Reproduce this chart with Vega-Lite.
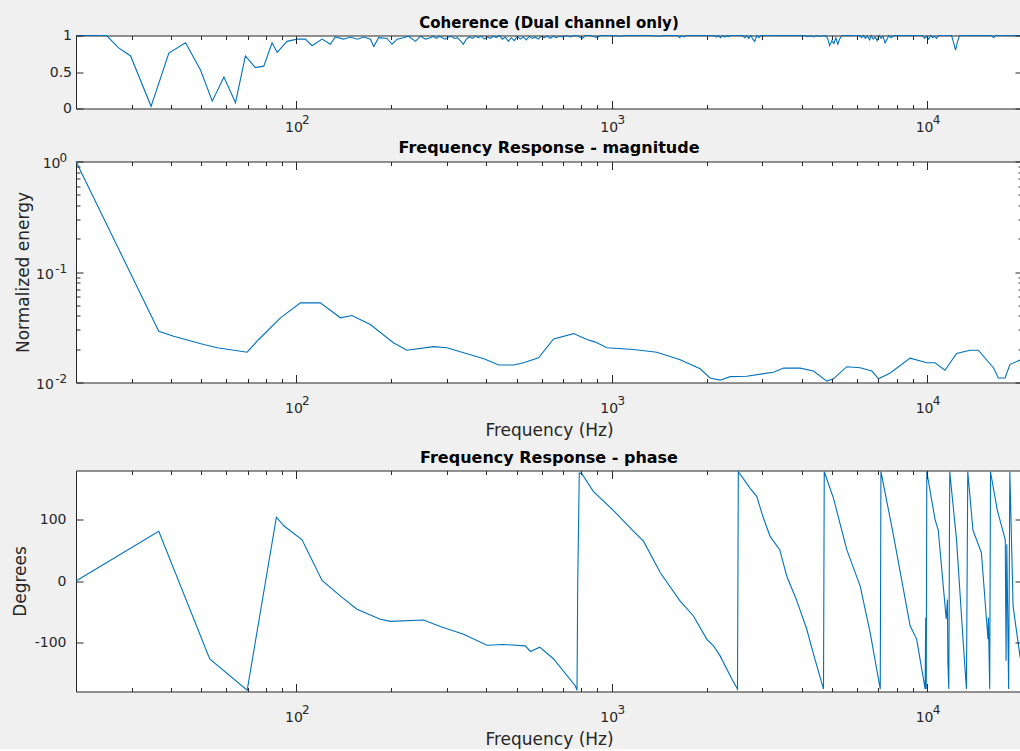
{
  "$schema": "https://vega.github.io/schema/vega-lite/v6.json",
  "background": "#f0f0f0",
  "padding": {"left": 10, "top": 14.5, "right": 0, "bottom": 0},
  "config": {
    "view": {"fill": "#ffffff", "stroke": "#262626", "strokeWidth": 1},
    "axis": {"grid": false, "labelFont": "DejaVu Sans", "titleFont": "DejaVu Sans", "labelColor": "#262626", "titleColor": "#262626", "tickColor": "#262626", "labelFontSize": 14, "titleFontSize": 17, "titleFontWeight": "normal", "tickWidth": 1, "labelFlush": false, "labelOverlap": false},
    "title": {"font": "DejaVu Sans", "fontSize": 16, "fontWeight": "bold", "color": "#000000", "anchor": "middle", "frame": "group", "baseline": "alphabetic", "offset": 8}
  },
  "datasets": {
    "coh": [
      {"f": 20, "v": 1}, {"f": 25, "v": 1}, {"f": 27.3, "v": 0.83}, {"f": 29.8, "v": 0.72}, {"f": 34.6, "v": 0.03}, {"f": 39.4, "v": 0.76}, {"f": 44.5, "v": 0.9}, {"f": 49.6, "v": 0.53}, {"f": 54.1, "v": 0.1}, {"f": 58.9, "v": 0.43}, {"f": 64.1, "v": 0.08}, {"f": 68.9, "v": 0.72}, {"f": 74.1, "v": 0.56}, {"f": 78.8, "v": 0.58}, {"f": 83.7, "v": 0.9}, {"f": 86.9, "v": 0.77}, {"f": 93.4, "v": 0.92}, {"f": 100.5, "v": 0.95}, {"f": 106.8, "v": 0.95}, {"f": 112.1, "v": 0.86}, {"f": 120.6, "v": 0.95}, {"f": 128.1, "v": 0.88}, {"f": 132.9, "v": 0.98}, {"f": 141.2, "v": 0.95}, {"f": 148.3, "v": 0.98}, {"f": 155.8, "v": 0.95}, {"f": 163.6, "v": 0.98}, {"f": 171.7, "v": 0.95}, {"f": 175.9, "v": 0.85}, {"f": 182.3, "v": 0.97}, {"f": 193.8, "v": 0.96}, {"f": 201.1, "v": 0.88}, {"f": 208.6, "v": 0.95}, {"f": 218.8, "v": 0.97}, {"f": 227, "v": 0.99}, {"f": 238.4, "v": 0.92}, {"f": 247.4, "v": 0.99}, {"f": 256.7, "v": 0.95}, {"f": 266.2, "v": 0.97},
      {"f": 271.8, "v": 0.99}, {"f": 277.8, "v": 0.96}, {"f": 284, "v": 0.99}, {"f": 290.3, "v": 0.97}, {"f": 296.7, "v": 0.95}, {"f": 303.3, "v": 0.98}, {"f": 310, "v": 0.99}, {"f": 316.8, "v": 0.96}, {"f": 323.8, "v": 0.97}, {"f": 331, "v": 0.93}, {"f": 338.3, "v": 0.88}, {"f": 345.8, "v": 0.95}, {"f": 353.5, "v": 0.98}, {"f": 361.3, "v": 0.96}, {"f": 369.3, "v": 0.99}, {"f": 377.5, "v": 0.97}, {"f": 385.8, "v": 0.99}, {"f": 394.3, "v": 0.95}, {"f": 403.1, "v": 0.98}, {"f": 412, "v": 0.96}, {"f": 421.1, "v": 0.99}, {"f": 430.5, "v": 0.97}, {"f": 440, "v": 1}, {"f": 449.8, "v": 0.95}, {"f": 459.7, "v": 0.98}, {"f": 469.9, "v": 0.92}, {"f": 480.3, "v": 0.97}, {"f": 490.9, "v": 0.93}, {"f": 501.8, "v": 0.99}, {"f": 512.9, "v": 0.95}, {"f": 524.3, "v": 0.98}, {"f": 535.9, "v": 0.94}, {"f": 547.7, "v": 0.99}, {"f": 559.8, "v": 0.96}, {"f": 572.2, "v": 0.98}, {"f": 584.9, "v": 0.95}, {"f": 597.8, "v": 0.99}, {"f": 611.1, "v": 0.97}, {"f": 624.6, "v": 0.99}, {"f": 638.4, "v": 0.96}, {"f": 652.6, "v": 0.99}, {"f": 667, "v": 0.97}, {"f": 681.8, "v": 0.99}, {"f": 696.9, "v": 0.98}, {"f": 717.6, "v": 1}, {"f": 738.8, "v": 0.98}, {"f": 760.7, "v": 1}, {"f": 783.2, "v": 0.99}, {"f": 806.3, "v": 0.96}, {"f": 824.1, "v": 1}, {"f": 854.7, "v": 1}, {"f": 899.5, "v": 0.97}, {"f": 919.4, "v": 1},
      {"f": 1000, "v": 1}, {"f": 1060, "v": 0.99}, {"f": 1099, "v": 1}, {"f": 1320, "v": 1}, {"f": 1419, "v": 0.99}, {"f": 1450, "v": 1}, {"f": 1619, "v": 1}, {"f": 1642, "v": 0.97}, {"f": 1666, "v": 1}, {"f": 1691, "v": 0.98}, {"f": 1720, "v": 1}, {"f": 2121, "v": 1}, {"f": 2149, "v": 0.98}, {"f": 2179, "v": 1}, {"f": 2215, "v": 0.97}, {"f": 2248, "v": 1}, {"f": 2281, "v": 0.98}, {"f": 2316, "v": 1}, {"f": 2349, "v": 0.985}, {"f": 2384, "v": 1}, {"f": 2601, "v": 1}, {"f": 2641, "v": 0.97}, {"f": 2681, "v": 1}, {"f": 2720, "v": 0.96}, {"f": 2761, "v": 1}, {"f": 2802, "v": 0.95}, {"f": 2840, "v": 0.92}, {"f": 2883, "v": 1}, {"f": 2926, "v": 0.97}, {"f": 2970, "v": 1}, {"f": 4090, "v": 1}, {"f": 4182, "v": 0.985}, {"f": 4276, "v": 1}, {"f": 4370, "v": 0.98}, {"f": 4470, "v": 1}, {"f": 4567, "v": 0.99}, {"f": 4776, "v": 1}, {"f": 4846, "v": 0.95}, {"f": 4909, "v": 0.86}, {"f": 4990, "v": 0.93}, {"f": 5063, "v": 0.89}, {"f": 5136, "v": 0.97}, {"f": 5212, "v": 0.88}, {"f": 5280, "v": 0.95}, {"f": 5363, "v": 1}, {"f": 6114, "v": 1}, {"f": 6192, "v": 0.97}, {"f": 6282, "v": 1}, {"f": 6372, "v": 0.96}, {"f": 6463, "v": 0.99}, {"f": 6573, "v": 0.94}, {"f": 6653, "v": 1}, {"f": 6748, "v": 0.95}, {"f": 6845, "v": 0.98}, {"f": 6945, "v": 0.93}, {"f": 7046, "v": 1}, {"f": 7148, "v": 0.96}, {"f": 7252, "v": 0.99}, {"f": 7357, "v": 0.9}, {"f": 7464, "v": 0.95}, {"f": 7573, "v": 1}, {"f": 7681, "v": 0.97}, {"f": 7850, "v": 1}, {"f": 9676, "v": 1}, {"f": 9820, "v": 0.96}, {"f": 9964, "v": 0.99}, {"f": 10110, "v": 0.95}, {"f": 10260, "v": 1}, {"f": 10410, "v": 0.97}, {"f": 10560, "v": 0.99}, {"f": 10720, "v": 0.96}, {"f": 10880, "v": 1}, {"f": 11960, "v": 1}, {"f": 12140, "v": 0.9}, {"f": 12310, "v": 0.8}, {"f": 12490, "v": 0.92}, {"f": 12680, "v": 1}, {"f": 16010, "v": 1}, {"f": 16250, "v": 0.97}, {"f": 16490, "v": 1}, {"f": 20000, "v": 1}
    ],
    "mag": [
      {"f": 20, "v": 1.0}, {"f": 36.6, "v": 0.0291}, {"f": 40.8, "v": 0.0262}, {"f": 50.8, "v": 0.0221}, {"f": 56.1, "v": 0.0206}, {"f": 69.8, "v": 0.0188}, {"f": 75.9, "v": 0.0245}, {"f": 89, "v": 0.0385}, {"f": 103, "v": 0.0526}, {"f": 119, "v": 0.0526}, {"f": 138, "v": 0.0385}, {"f": 150, "v": 0.0404}, {"f": 171.6, "v": 0.0335}, {"f": 203, "v": 0.0229}, {"f": 224, "v": 0.0196}, {"f": 272, "v": 0.0211}, {"f": 300, "v": 0.0206}, {"f": 393, "v": 0.0164}, {"f": 438, "v": 0.0144}, {"f": 489, "v": 0.0144}, {"f": 525, "v": 0.0151}, {"f": 586, "v": 0.0167}, {"f": 654, "v": 0.0248}, {"f": 757, "v": 0.0277}, {"f": 834, "v": 0.0245}, {"f": 887, "v": 0.0232}, {"f": 966, "v": 0.0206}, {"f": 1173, "v": 0.0199}, {"f": 1390, "v": 0.0188}, {"f": 1648, "v": 0.0161}, {"f": 1907, "v": 0.0133}, {"f": 2050, "v": 0.011}, {"f": 2206, "v": 0.0105}, {"f": 2375, "v": 0.0113}, {"f": 2681, "v": 0.0114}, {"f": 3258, "v": 0.0124}, {"f": 3506, "v": 0.0135}, {"f": 3956, "v": 0.0135}, {"f": 4362, "v": 0.0127}, {"f": 4810, "v": 0.0103}, {"f": 5048, "v": 0.0108}, {"f": 5563, "v": 0.0139}, {"f": 6135, "v": 0.0136}, {"f": 6683, "v": 0.0127}, {"f": 7017, "v": 0.0108}, {"f": 7640, "v": 0.0122}, {"f": 8836, "v": 0.0166}, {"f": 9980, "v": 0.0151}, {"f": 10600, "v": 0.0151}, {"f": 11400, "v": 0.0129}, {"f": 12400, "v": 0.0183}, {"f": 13680, "v": 0.0196}, {"f": 14540, "v": 0.0196}, {"f": 16230, "v": 0.0136}, {"f": 16830, "v": 0.011}, {"f": 17670, "v": 0.011}, {"f": 18320, "v": 0.0146}, {"f": 20000, "v": 0.0162}
    ],
    "ph": [
      {"f": 20, "v": 0}, {"f": 36.6, "v": 80.8}, {"f": 53.1, "v": -127}, {"f": 69.8, "v": -178}, {"f": 86.4, "v": 104}, {"f": 91.2, "v": 90}, {"f": 104.2, "v": 67}, {"f": 120.6, "v": 1}, {"f": 138, "v": -24.6}, {"f": 155.6, "v": -46}, {"f": 184.5, "v": -62.4}, {"f": 198.5, "v": -65.7}, {"f": 253, "v": -63.5}, {"f": 286, "v": -74}, {"f": 339, "v": -86.8}, {"f": 402, "v": -104.6}, {"f": 454, "v": -103.5}, {"f": 532, "v": -105.7}, {"f": 552, "v": -114.8}, {"f": 591, "v": -107.8}, {"f": 654, "v": -127}, {"f": 766, "v": -170.6}, {"f": 776, "v": -178}, {"f": 780, "v": -5}, {"f": 789, "v": 176}, {"f": 803, "v": 175}, {"f": 875, "v": 145.6}, {"f": 1013, "v": 114.8}, {"f": 1173, "v": 80.8}, {"f": 1262, "v": 64.5}, {"f": 1426, "v": 13.3}, {"f": 1648, "v": -32.8}, {"f": 1816, "v": -57}, {"f": 2003, "v": -95}, {"f": 2103, "v": -105.7}, {"f": 2206, "v": -122}, {"f": 2404, "v": -159.7}, {"f": 2505, "v": -176}, {"f": 2520, "v": 178}, {"f": 2748, "v": 151}, {"f": 2884, "v": 137.5}, {"f": 3016, "v": 105}, {"f": 3178, "v": 72.6}, {"f": 3409, "v": 51}, {"f": 3590, "v": 7.8}, {"f": 3849, "v": -30}, {"f": 4155, "v": -78.6}, {"f": 4346, "v": -116}, {"f": 4694, "v": -176}, {"f": 4720, "v": 178}, {"f": 5048, "v": 135}, {"f": 5563, "v": 51}, {"f": 6135, "v": -8.4}, {"f": 6600, "v": -84}, {"f": 7104, "v": -176}, {"f": 7140, "v": 178}, {"f": 7800, "v": 78}, {"f": 8836, "v": -73}, {"f": 9270, "v": -95}, {"f": 9860, "v": -176}, {"f": 9900, "v": -60}, {"f": 9940, "v": -176}, {"f": 9980, "v": 178}, {"f": 10600, "v": 100}, {"f": 10850, "v": 83}, {"f": 11500, "v": -62}, {"f": 11600, "v": -30}, {"f": 11640, "v": -132}, {"f": 11720, "v": -176}, {"f": 11800, "v": 178}, {"f": 12400, "v": 67}, {"f": 13000, "v": -95}, {"f": 13330, "v": -176}, {"f": 13460, "v": 178}, {"f": 13980, "v": 83}, {"f": 14870, "v": 46}, {"f": 15600, "v": -95}, {"f": 15650, "v": -60}, {"f": 15800, "v": -176}, {"f": 15890, "v": 178}, {"f": 16690, "v": 116}, {"f": 17700, "v": 67}, {"f": 17800, "v": -130}, {"f": 17900, "v": 60}, {"f": 18140, "v": -176}, {"f": 18300, "v": 178}, {"f": 18740, "v": -41}, {"f": 19700, "v": -122}, {"f": 20000, "v": -140}
    ]
  },
  "bounds": "flush",
  "spacing": 53,
  "vconcat": [
    {
      "width": 946, "height": 73,
      "data": {"name": "coh"},
      "title": {"text": "Coherence (Dual channel only)", "fontSize": 15, "offset": -2},
      "layer": [
        {"mark": {"type": "line", "color": "#0072BD", "strokeWidth": 1.1},
         "encoding": {
           "x": {"field": "f", "type": "quantitative", "scale": {"type": "log", "domain": [20, 20000], "nice": false}, "axis": {"orient": "bottom", "values": [100, 1000, 10000], "labelExpr": "'10'", "ticks": false, "tickSize": 0, "domain": false, "labelBaseline": "alphabetic", "labelPadding": 23, "labelOffset": -3, "labelAlign": "center", "title": null}},
           "y": {"field": "v", "type": "quantitative", "scale": {"domain": [0, 1], "nice": false, "zero": false}, "axis": {"orient": "left", "values": [0, 0.5, 1], "labelExpr": "format(datum.value, '~g')", "ticks": false, "tickSize": 0, "domain": false, "labelAlign": "right", "labelBaseline": "middle", "labelPadding": 4.5, "title": null}}}},
        {"mark": {"type": "line", "strokeOpacity": 0},
         "encoding": {
           "x": {"field": "f", "type": "quantitative", "scale": {"type": "log", "domain": [20, 20000], "nice": false}, "axis": {"orient": "bottom", "values": [100, 1000, 10000], "labelExpr": "datum.value == 100 ? '2' : datum.value == 1000 ? '3' : '4'", "ticks": false, "tickSize": 0, "domain": false, "labelBaseline": "alphabetic", "labelPadding": 15, "labelOffset": 9, "labelFontSize": 12, "labelAlign": "center", "title": null}},
           "y": {"field": "v", "type": "quantitative", "axis": {"orient": "left", "values": [0, 0.5, 1], "labels": false, "domain": false, "ticks": true, "tickSize": 7, "offset": -7, "zindex": 1, "tickColor": "#262626", "title": null}}}},
        {"mark": {"type": "line", "strokeOpacity": 0},
         "encoding": {
           "x": {"field": "f", "type": "quantitative", "axis": {"orient": "bottom", "values": [100, 1000, 10000], "labels": false, "domain": false, "ticks": true, "tickSize": 8, "offset": -8, "zindex": 1, "tickColor": "#262626", "title": null}},
           "y": {"field": "v", "type": "quantitative", "axis": {"orient": "right", "values": [0, 0.5, 1], "labels": false, "domain": false, "ticks": true, "tickSize": 7, "offset": -7, "zindex": 1, "tickColor": "#262626", "title": null}}}},
        {"mark": {"type": "line", "strokeOpacity": 0},
         "encoding": {
           "x": {"field": "f", "type": "quantitative", "axis": {"orient": "bottom", "values": [30, 40, 50, 60, 70, 80, 90, 200, 300, 400, 500, 600, 700, 800, 900, 2000, 3000, 4000, 5000, 6000, 7000, 8000, 9000], "labels": false, "domain": false, "ticks": true, "tickSize": 4, "offset": -4, "zindex": 1, "tickColor": "#262626", "title": null}},
           "y": {"field": "v", "type": "quantitative", "axis": null}}},
        {"mark": {"type": "line", "strokeOpacity": 0},
         "encoding": {
           "x": {"field": "f", "type": "quantitative", "axis": {"orient": "top", "values": [100, 1000, 10000], "labels": false, "domain": false, "ticks": true, "tickSize": 8, "offset": -8, "zindex": 1, "tickColor": "#262626", "title": null}},
           "y": {"field": "v", "type": "quantitative", "axis": null}}},
        {"mark": {"type": "line", "strokeOpacity": 0},
         "encoding": {
           "x": {"field": "f", "type": "quantitative", "axis": {"orient": "top", "values": [30, 40, 50, 60, 70, 80, 90, 200, 300, 400, 500, 600, 700, 800, 900, 2000, 3000, 4000, 5000, 6000, 7000, 8000, 9000], "labels": false, "domain": false, "ticks": true, "tickSize": 4, "offset": -4, "zindex": 1, "tickColor": "#262626", "title": null}},
           "y": {"field": "v", "type": "quantitative", "axis": null}}}
      ],
      "resolve": {"axis": {"x": "independent", "y": "independent"}}
    },
    {
      "bounds": "flush",
      "spacing": 88,
      "vconcat": [
        {
          "width": 946, "height": 221,
          "data": {"name": "mag"},
          "title": {"text": "Frequency Response - magnitude", "offset": -4},
          "layer": [
            {"mark": {"type": "line", "color": "#0072BD", "strokeWidth": 1.1},
             "encoding": {
               "x": {"field": "f", "type": "quantitative", "scale": {"type": "log", "domain": [20, 20000], "nice": false}, "axis": {"orient": "bottom", "values": [100, 1000, 10000], "labelExpr": "'10'", "ticks": false, "tickSize": 0, "domain": false, "labelBaseline": "alphabetic", "labelPadding": 30, "labelOffset": -3, "labelAlign": "center", "title": "Frequency (Hz)", "titlePadding": 7}},
               "y": {"field": "v", "type": "quantitative", "scale": {"type": "log", "domain": [0.01, 1], "nice": false}, "axis": {"orient": "left", "values": [0.01, 0.1, 1], "labelExpr": "'10'", "ticks": false, "tickSize": 0, "domain": false, "labelAlign": "right", "labelBaseline": "middle", "labelPadding": {"condition": {"test": "datum.value == 1", "value": 16}, "value": 22.7}, "labelOffset": 2, "title": "Normalized energy", "titlePadding": 3}}}},
            {"mark": {"type": "line", "strokeOpacity": 0},
             "encoding": {
               "x": {"field": "f", "type": "quantitative", "axis": {"orient": "bottom", "values": [100, 1000, 10000], "labelExpr": "datum.value == 100 ? '2' : datum.value == 1000 ? '3' : '4'", "ticks": false, "tickSize": 0, "domain": false, "labelBaseline": "alphabetic", "labelPadding": 22, "labelOffset": 9, "labelFontSize": 12, "labelAlign": "center", "title": null}},
               "y": {"field": "v", "type": "quantitative", "axis": {"orient": "left", "values": [0.01, 0.1, 1], "labelExpr": "datum.value == 1 ? '0' : datum.value == 0.1 ? '-1' : '-2'", "ticks": false, "tickSize": 0, "domain": false, "labelAlign": "right", "labelBaseline": "middle", "labelPadding": 9.3, "labelOffset": -4, "labelFontSize": 12, "title": null}}}},
            {"mark": {"type": "line", "strokeOpacity": 0},
             "encoding": {
               "x": {"field": "f", "type": "quantitative", "axis": {"orient": "bottom", "values": [100, 1000, 10000], "labels": false, "domain": false, "ticks": true, "tickSize": 8, "offset": -8, "zindex": 1, "tickColor": "#262626", "title": null}},
               "y": {"field": "v", "type": "quantitative", "axis": {"orient": "left", "values": [0.01, 0.1, 1], "labels": false, "domain": false, "ticks": true, "tickSize": 7, "offset": -7, "zindex": 1, "tickColor": "#262626", "title": null}}}},
            {"mark": {"type": "line", "strokeOpacity": 0},
             "encoding": {
               "x": {"field": "f", "type": "quantitative", "axis": {"orient": "bottom", "values": [30, 40, 50, 60, 70, 80, 90, 200, 300, 400, 500, 600, 700, 800, 900, 2000, 3000, 4000, 5000, 6000, 7000, 8000, 9000], "labels": false, "domain": false, "ticks": true, "tickSize": 4, "offset": -4, "zindex": 1, "tickColor": "#262626", "title": null}},
               "y": {"field": "v", "type": "quantitative", "axis": {"orient": "left", "values": [0.02, 0.03, 0.04, 0.05, 0.06, 0.07, 0.08, 0.09, 0.2, 0.3, 0.4, 0.5, 0.6, 0.7, 0.8, 0.9], "labels": false, "domain": false, "ticks": true, "tickSize": 4, "offset": -4, "zindex": 1, "tickColor": "#262626", "title": null}}}},
            {"mark": {"type": "line", "strokeOpacity": 0},
             "encoding": {
               "x": {"field": "f", "type": "quantitative", "axis": {"orient": "top", "values": [100, 1000, 10000], "labels": false, "domain": false, "ticks": true, "tickSize": 8, "offset": -8, "zindex": 1, "tickColor": "#262626", "title": null}},
               "y": {"field": "v", "type": "quantitative", "axis": {"orient": "right", "values": [0.01, 0.1, 1], "labels": false, "domain": false, "ticks": true, "tickSize": 7, "offset": -7, "zindex": 1, "tickColor": "#262626", "title": null}}}},
            {"mark": {"type": "line", "strokeOpacity": 0},
             "encoding": {
               "x": {"field": "f", "type": "quantitative", "axis": {"orient": "top", "values": [30, 40, 50, 60, 70, 80, 90, 200, 300, 400, 500, 600, 700, 800, 900, 2000, 3000, 4000, 5000, 6000, 7000, 8000, 9000], "labels": false, "domain": false, "ticks": true, "tickSize": 4, "offset": -4, "zindex": 1, "tickColor": "#262626", "title": null}},
               "y": {"field": "v", "type": "quantitative", "axis": {"orient": "right", "values": [0.02, 0.03, 0.04, 0.05, 0.06, 0.07, 0.08, 0.09, 0.2, 0.3, 0.4, 0.5, 0.6, 0.7, 0.8, 0.9], "labels": false, "domain": false, "ticks": true, "tickSize": 4, "offset": -4, "zindex": 1, "tickColor": "#262626", "title": null}}}}
          ],
          "resolve": {"axis": {"x": "independent", "y": "independent"}}
        },
        {
          "width": 946, "height": 221,
          "data": {"name": "ph"},
          "title": {"text": "Frequency Response - phase", "offset": 4},
          "layer": [
            {"mark": {"type": "line", "color": "#0072BD", "strokeWidth": 1.1},
             "encoding": {
               "x": {"field": "f", "type": "quantitative", "scale": {"type": "log", "domain": [20, 20000], "nice": false}, "axis": {"orient": "bottom", "values": [100, 1000, 10000], "labelExpr": "'10'", "ticks": false, "tickSize": 0, "domain": false, "labelBaseline": "alphabetic", "labelPadding": 30, "labelOffset": -3, "labelAlign": "center", "title": "Frequency (Hz)", "titlePadding": 7}},
               "y": {"field": "v", "type": "quantitative", "scale": {"domain": [-180, 180], "nice": false, "zero": false}, "axis": {"orient": "left", "values": [-100, 0, 100], "labelExpr": "'' + datum.value", "ticks": false, "tickSize": 0, "domain": false, "labelAlign": "right", "labelBaseline": "middle", "labelPadding": 10, "title": "Degrees", "titlePadding": 5}}}},
            {"mark": {"type": "line", "strokeOpacity": 0},
             "encoding": {
               "x": {"field": "f", "type": "quantitative", "axis": {"orient": "bottom", "values": [100, 1000, 10000], "labelExpr": "datum.value == 100 ? '2' : datum.value == 1000 ? '3' : '4'", "ticks": false, "tickSize": 0, "domain": false, "labelBaseline": "alphabetic", "labelPadding": 22, "labelOffset": 9, "labelFontSize": 12, "labelAlign": "center", "title": null}},
               "y": {"field": "v", "type": "quantitative", "axis": {"orient": "left", "values": [-100, 0, 100], "labels": false, "domain": false, "ticks": true, "tickSize": 7, "offset": -7, "zindex": 1, "tickColor": "#262626", "title": null}}}},
            {"mark": {"type": "line", "strokeOpacity": 0},
             "encoding": {
               "x": {"field": "f", "type": "quantitative", "axis": {"orient": "bottom", "values": [100, 1000, 10000], "labels": false, "domain": false, "ticks": true, "tickSize": 8, "offset": -8, "zindex": 1, "tickColor": "#262626", "title": null}},
               "y": {"field": "v", "type": "quantitative", "axis": {"orient": "right", "values": [-100, 0, 100], "labels": false, "domain": false, "ticks": true, "tickSize": 7, "offset": -7, "zindex": 1, "tickColor": "#262626", "title": null}}}},
            {"mark": {"type": "line", "strokeOpacity": 0},
             "encoding": {
               "x": {"field": "f", "type": "quantitative", "axis": {"orient": "bottom", "values": [30, 40, 50, 60, 70, 80, 90, 200, 300, 400, 500, 600, 700, 800, 900, 2000, 3000, 4000, 5000, 6000, 7000, 8000, 9000], "labels": false, "domain": false, "ticks": true, "tickSize": 4, "offset": -4, "zindex": 1, "tickColor": "#262626", "title": null}},
               "y": {"field": "v", "type": "quantitative", "axis": null}}},
            {"mark": {"type": "line", "strokeOpacity": 0},
             "encoding": {
               "x": {"field": "f", "type": "quantitative", "axis": {"orient": "top", "values": [100, 1000, 10000], "labels": false, "domain": false, "ticks": true, "tickSize": 8, "offset": -8, "zindex": 1, "tickColor": "#262626", "title": null}},
               "y": {"field": "v", "type": "quantitative", "axis": null}}},
            {"mark": {"type": "line", "strokeOpacity": 0},
             "encoding": {
               "x": {"field": "f", "type": "quantitative", "axis": {"orient": "top", "values": [30, 40, 50, 60, 70, 80, 90, 200, 300, 400, 500, 600, 700, 800, 900, 2000, 3000, 4000, 5000, 6000, 7000, 8000, 9000], "labels": false, "domain": false, "ticks": true, "tickSize": 4, "offset": -4, "zindex": 1, "tickColor": "#262626", "title": null}},
               "y": {"field": "v", "type": "quantitative", "axis": null}}}
          ],
          "resolve": {"axis": {"x": "independent", "y": "independent"}}
        }
      ]
    }
  ]
}
